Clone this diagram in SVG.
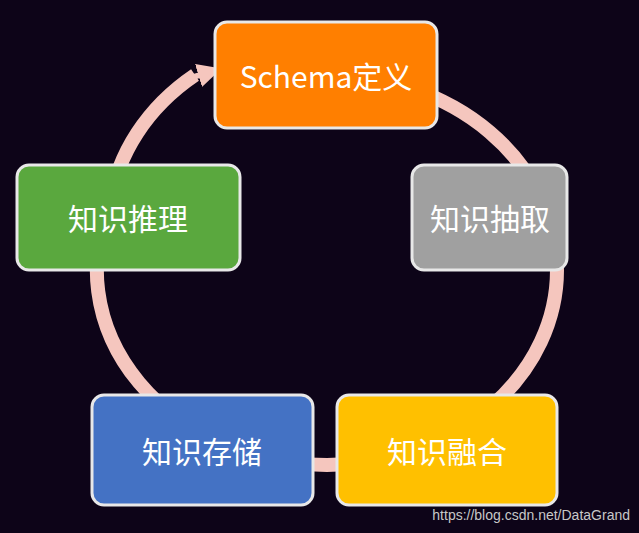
<svg xmlns="http://www.w3.org/2000/svg" width="639" height="533" viewBox="0 0 639 533">
<style>
.box{stroke:#e8e8e8;stroke-width:3}
.t{font-family:"Noto Sans CJK SC","Liberation Sans",sans-serif;font-size:30px;fill:#fff;text-anchor:middle;dominant-baseline:central}
</style>
<defs><marker id="ah" markerWidth="4" markerHeight="4" refX="2" refY="2" orient="auto"><path d="M0,0 L4,2 L0,4 z" fill="#f5c6be"/></marker></defs>
<rect width="639" height="533" fill="#0d0418"/>
<g id="connectors">
<path d="M 327 75 A 230 195 0 1 1 327 465 A 230 195 0 0 1 110 205 A 230 195 0 0 1 195 75" fill="none" stroke="#f5c6be" stroke-width="14"/>
<path d="M 190 78 L 210 72" stroke="#f5c6be" stroke-width="6" marker-end="url(#ah)"/>
</g>
<g id="n1"><rect class="box" x="215" y="22" width="222" height="106" rx="12" fill="#ff7f00"/><text class="t" x="326" y="75">Schema定义</text></g>
<g id="n2"><rect class="box" x="412" y="165" width="155" height="105" rx="12" fill="#a0a0a0"/><text class="t" x="490" y="217">知识抽取</text></g>
<g id="n3"><rect class="box" x="337" y="395" width="220" height="110" rx="12" fill="#ffc000"/><text class="t" x="447" y="450">知识融合</text></g>
<g id="n4"><rect class="box" x="92" y="395" width="221" height="110" rx="12" fill="#4472c4"/><text class="t" x="202" y="450">知识存储</text></g>
<g id="n5"><rect class="box" x="17" y="165" width="223" height="105" rx="12" fill="#5aa83e"/><text class="t" x="128" y="217">知识推理</text></g>
<text x="630" y="520" font-family="Liberation Sans,sans-serif" font-size="14" fill="#c8c8c8" text-anchor="end">https://blog.csdn.net/DataGrand</text>
</svg>
